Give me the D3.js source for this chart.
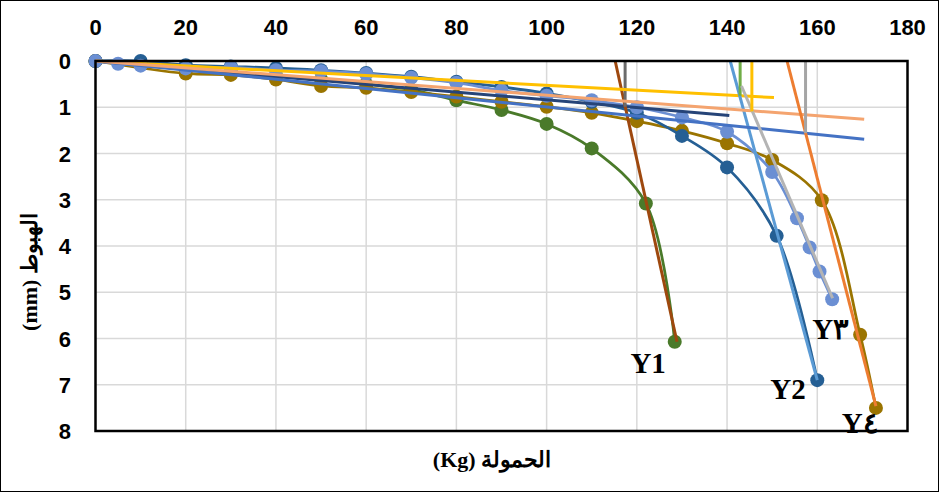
<!DOCTYPE html>
<html>
<head>
<meta charset="utf-8">
<script src="https://cdn.jsdelivr.net/npm/d3@7"></script>
<style>
  body { margin: 0; background: #fff; }
  .tick-label { font-family: "Liberation Sans Narrow", "Liberation Sans", sans-serif; font-weight: bold; font-size: 22px; fill: #000; }
  .axis-title { font-family: "Liberation Serif", "DejaVu Serif", serif; font-weight: bold; font-size: 22px; fill: #000; }
  .curve-label { font-family: "Liberation Serif", serif; font-weight: bold; font-size: 29px; fill: #000; }
</style>
</head>
<body>
<div class="container"></div>
<script>
const WIDTH = 939;
const HEIGHT = 492;

// load (Kg) and settlement (mm) for each test
const load1 = [0, 10, 20, 30, 40, 50, 60, 70, 80, 90, 100, 110, 122, 128.4];
const settle1 = [0, 0.05, 0.18, 0.24, 0.32, 0.4, 0.5, 0.62, 0.85, 1.06, 1.36, 1.89, 3.08, 6.07];

const load2 = [0, 10, 20, 30, 40, 50, 60, 70, 80, 90, 100, 110, 120, 130, 140, 151, 160];
const settle2 = [0, 0, 0.09, 0.12, 0.15, 0.2, 0.26, 0.34, 0.45, 0.56, 0.7, 0.88, 1.12, 1.62, 2.3, 3.78, 6.9];

const load3 = [0, 5, 10, 20, 30, 40, 50, 60, 70, 80, 90, 100, 110, 120, 130, 140, 150, 155.5, 158.3, 160.5, 163.3];
const settle3 = [0, 0.06, 0.1, 0.16, 0.14, 0.2, 0.22, 0.28, 0.36, 0.47, 0.64, 0.75, 0.85, 1.0, 1.22, 1.53, 2.4, 3.4, 4.03, 4.55, 5.15];

const load4 = [0, 20, 30, 40, 50, 60, 70, 80, 90, 100, 110, 120, 130, 140, 150, 161, 169.5, 173];
const settle4 = [0, 0.27, 0.3, 0.4, 0.54, 0.58, 0.67, 0.77, 0.88, 0.99, 1.12, 1.3, 1.51, 1.78, 2.14, 3.01, 5.92, 7.5];

// tangent construction lines, [load, settlement] end points
const tanInitial1 = [[0, 0], [140.5, 1.18]];
const tanFinal1 = [[115.2, 0], [128.9, 6.07]];
const drop1 = [[117.4, 0], [117.4, 0.99]];
const tanInitial2 = [[0, 0], [150.4, 0.79]];
const tanFinal2 = [[140.7, 0], [160, 6.9]];
const drop2 = [[142.9, 0], [142.9, 0.75]];
const tanInitial3 = [[0, 0], [170.4, 1.26]];
const tanFinal3 = [[143.2, 0.54], [163.4, 5.13]];
const drop3 = [[145.5, 0], [145.5, 1.09]];
const tanInitial4 = [[0, 0], [170.4, 1.69]];
const tanFinal4 = [[153.3, 0], [173, 7.46]];
const drop4 = [[157.4, 0], [157.4, 1.56]];

const xTicks = [0, 20, 40, 60, 80, 100, 120, 140, 160, 180];
const yTicks = [0, 1, 2, 3, 4, 5, 6, 7, 8];

const curveLabels = [
    {text: 'Y1', load: 122.5, settle: 6.75},
    {text: 'Y2', load: 153.5, settle: 7.3},
    {text: 'Y\u0663', load: 163, settle: 6.0},
    {text: 'Y\u0664', load: 169.5, settle: 8.05}
];

var _x = d3.scaleLinear().domain([0, 180]).range([95.5, 907.5]);
var _y = d3.scaleLinear().domain([0, 8]).range([61, 431]);

var _svg = d3.select('.container').append('svg')
    .attr('width', WIDTH).attr('height', HEIGHT);

_svg.append('rect')
    .attr('x', 0.5).attr('y', 0.5)
    .attr('width', WIDTH - 1).attr('height', HEIGHT - 1)
    .attr('fill', '#fff').attr('stroke', '#000').attr('stroke-width', 1);

// grid
var grid = _svg.append('g');
grid.selectAll('.vg').data(xTicks.slice(1, -1)).enter().append('line')
    .attr('x1', d => _x(d)).attr('x2', d => _x(d))
    .attr('y1', _y(0)).attr('y2', _y(8))
    .attr('stroke', '#d9d9d9').attr('stroke-width', 1.5);
grid.selectAll('.hg').data(yTicks.slice(1, -1)).enter().append('line')
    .attr('x1', _x(0)).attr('x2', _x(180))
    .attr('y1', d => _y(d)).attr('y2', d => _y(d))
    .attr('stroke', '#d9d9d9').attr('stroke-width', 1.5);

// tick labels
_svg.append('g').selectAll('text').data(xTicks).enter().append('text')
    .attr('class', 'tick-label')
    .attr('x', d => _x(d)).attr('y', 35)
    .attr('text-anchor', 'middle')
    .text(d => d);
_svg.append('g').selectAll('text').data(yTicks).enter().append('text')
    .attr('class', 'tick-label')
    .attr('x', 71).attr('y', d => _y(d) + 8)
    .attr('text-anchor', 'end')
    .text(d => d);

var plot = _svg.append('g');

var smooth = d3.line()
    .x(d => _x(d[0])).y(d => _y(d[1]))
    .curve(d3.curveCatmullRom.alpha(0.5));
var straight = d3.line().x(d => _x(d[0])).y(d => _y(d[1]));

var series = [
    {load: load1, settle: settle1, color: '#4a7a2a'},
    {load: load4, settle: settle4, color: '#9a7400'},
    {load: load2, settle: settle2, color: '#255f94'},
    {load: load3, settle: settle3, color: '#6b8fd3'}
];

series.forEach(function (s) {
    var pts = s.load.map((v, i) => [v, s.settle[i]]);
    plot.append('path')
        .attr('d', smooth(pts))
        .attr('fill', 'none')
        .attr('stroke', s.color)
        .attr('stroke-width', 2.75);
    plot.selectAll(null).data(pts).enter().append('circle')
        .attr('cx', d => _x(d[0])).attr('cy', d => _y(d[1]))
        .attr('r', 7)
        .attr('fill', s.color);
});

var tangents = [
    {pts: tanInitial1, color: '#264478'},
    {pts: tanFinal1, color: '#9e480e'},
    {pts: drop1, color: '#6b6b6b'},
    {pts: tanInitial2, color: '#ffc000'},
    {pts: tanFinal2, color: '#5b9bd5'},
    {pts: drop2, color: '#70ad47'},
    {pts: tanInitial4, color: '#4472c4'},
    {pts: tanInitial3, color: '#f4a46f'},
    {pts: tanFinal3, color: '#b4b4b4'},
    {pts: drop3, color: '#ffc000'},
    {pts: tanFinal4, color: '#ed7d31'},
    {pts: drop4, color: '#a5a5a5'}
];

tangents.forEach(function (t) {
    plot.append('path')
        .attr('d', straight(t.pts))
        .attr('fill', 'none')
        .attr('stroke', t.color)
        .attr('stroke-width', 3);
});

// curve names
plot.selectAll('.cl').data(curveLabels).enter().append('text')
    .attr('class', 'curve-label')
    .attr('x', d => _x(d.load)).attr('y', d => _y(d.settle))
    .attr('text-anchor', 'middle')
    .text(d => d.text);

// plot frame
_svg.append('rect')
    .attr('x', _x(0)).attr('y', _y(0))
    .attr('width', _x(180) - _x(0)).attr('height', _y(8) - _y(0))
    .attr('fill', 'none').attr('stroke', '#000').attr('stroke-width', 2.5);

// axis titles
_svg.append('text')
    .attr('class', 'axis-title')
    .attr('x', 492).attr('y', 467)
    .attr('text-anchor', 'middle')
    .attr('direction', 'rtl')
    .text('الحمولة (Kg)');

_svg.append('text')
    .attr('class', 'axis-title')
    .attr('transform', 'translate(37,272) rotate(-90)')
    .attr('text-anchor', 'middle')
    .attr('direction', 'rtl')
    .text('الهبوط (mm)');
</script>
</body>
</html>
